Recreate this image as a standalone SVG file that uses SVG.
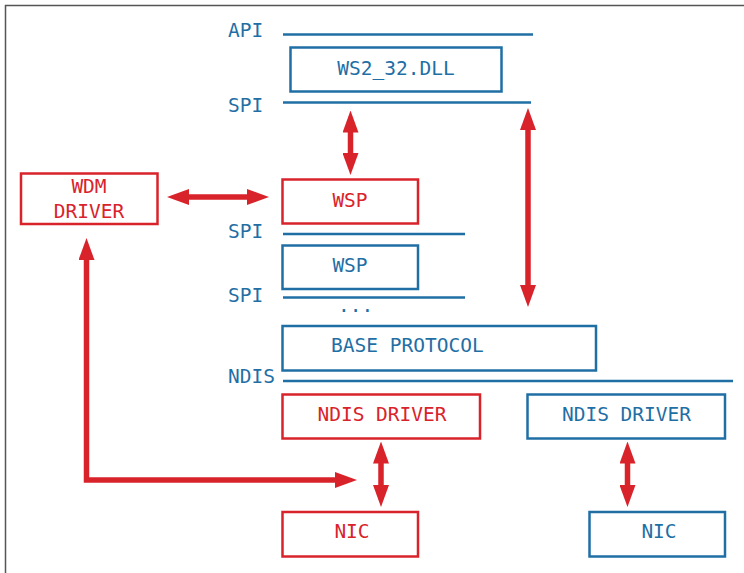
<svg xmlns="http://www.w3.org/2000/svg" width="744" height="573" viewBox="0 0 744 573">
<defs>
<style>
.b{fill:none;stroke:#1f6fa5;stroke-width:2.5}
.r{fill:none;stroke:#d9232b;stroke-width:2.5}
.tb{fill:#1f6fa5;font-family:"DejaVu Sans Mono",monospace;font-size:19.5px}
.tr{fill:#d9232b;font-family:"DejaVu Sans Mono",monospace;font-size:19.5px}
.ln{stroke:#1f6fa5;stroke-width:2.5}
.ar{fill:none;stroke:#d9232b;stroke-width:5.5}
</style>
<marker id="ah" viewBox="0 0 22 16" refX="4" refY="8" markerWidth="22" markerHeight="16" markerUnits="userSpaceOnUse" orient="auto-start-reverse">
<path d="M0,0 L22,8 L0,16 Z" fill="#d9232b"/>
</marker>
</defs>
<rect x="0" y="0" width="744" height="573" fill="#fff"/>
<rect x="5.5" y="5.5" width="760" height="600" fill="none" stroke="#555" stroke-width="1.5"/>

<g id="layers">
<text class="tb" x="228" y="37">API</text>
<line class="ln" x1="283" y1="34.5" x2="533" y2="34.5"/>
<text class="tb" x="228" y="112">SPI</text>
<line class="ln" x1="283" y1="102.5" x2="531" y2="102.5"/>
<text class="tb" x="228" y="238">SPI</text>
<line class="ln" x1="283" y1="234" x2="465" y2="234"/>
<text class="tb" x="228" y="302">SPI</text>
<line class="ln" x1="283" y1="297.5" x2="465" y2="297.5"/>
<text class="tb" x="338" y="312">...</text>
<text class="tb" x="228" y="383">NDIS</text>
<line class="ln" x1="283" y1="381" x2="733" y2="381"/>
</g>

<g id="ws2_32">
<rect class="b" x="290.5" y="47.5" width="211" height="44"/>
<text class="tb" x="396" y="74.5" text-anchor="middle">WS2_32.DLL</text>
</g>
<g id="wdm">
<rect class="r" x="21" y="173.5" width="136.5" height="50.5"/>
<text class="tr" x="89" y="193" text-anchor="middle">WDM</text>
<text class="tr" x="89" y="218" text-anchor="middle">DRIVER</text>
</g>
<g id="wsp-red">
<rect class="r" x="282.5" y="179.5" width="135.5" height="44"/>
<text class="tr" x="350" y="206.5" text-anchor="middle">WSP</text>
</g>
<g id="wsp-blue">
<rect class="b" x="282.5" y="245.5" width="135.5" height="43.5"/>
<text class="tb" x="350" y="271.5" text-anchor="middle">WSP</text>
</g>
<g id="base">
<rect class="b" x="282.5" y="326" width="313.5" height="44.5"/>
<text class="tb" x="331" y="352">BASE PROTOCOL</text>
</g>
<g id="ndis-red">
<rect class="r" x="282.5" y="394.5" width="197.5" height="44"/>
<text class="tr" x="382" y="420.5" text-anchor="middle">NDIS DRIVER</text>
</g>
<g id="ndis-blue">
<rect class="b" x="527.5" y="394.5" width="197.5" height="44"/>
<text class="tb" x="626.5" y="420.5" text-anchor="middle">NDIS DRIVER</text>
</g>
<g id="nic-red">
<rect class="r" x="282.5" y="512" width="135.5" height="44.5"/>
<text class="tr" x="352" y="538" text-anchor="middle">NIC</text>
</g>
<g id="nic-blue">
<rect class="b" x="589.5" y="512" width="135.5" height="44.5"/>
<text class="tb" x="659" y="538" text-anchor="middle">NIC</text>
</g>

<g id="connectors">
<path class="ar" d="M350.5,128.5 L350.5,157" marker-start="url(#ah)" marker-end="url(#ah)"/>
<path class="ar" d="M528,126 L528,289" marker-start="url(#ah)" marker-end="url(#ah)"/>
<path class="ar" d="M185,197 L251,197" marker-start="url(#ah)" marker-end="url(#ah)"/>
<path class="ar" d="M86.5,256 L86.5,480 L339,480" marker-start="url(#ah)" marker-end="url(#ah)"/>
<path class="ar" d="M381,459.5 L381,489" marker-start="url(#ah)" marker-end="url(#ah)"/>
<path class="ar" d="M627.5,459.5 L627.5,489" marker-start="url(#ah)" marker-end="url(#ah)"/>
</g>
</svg>
